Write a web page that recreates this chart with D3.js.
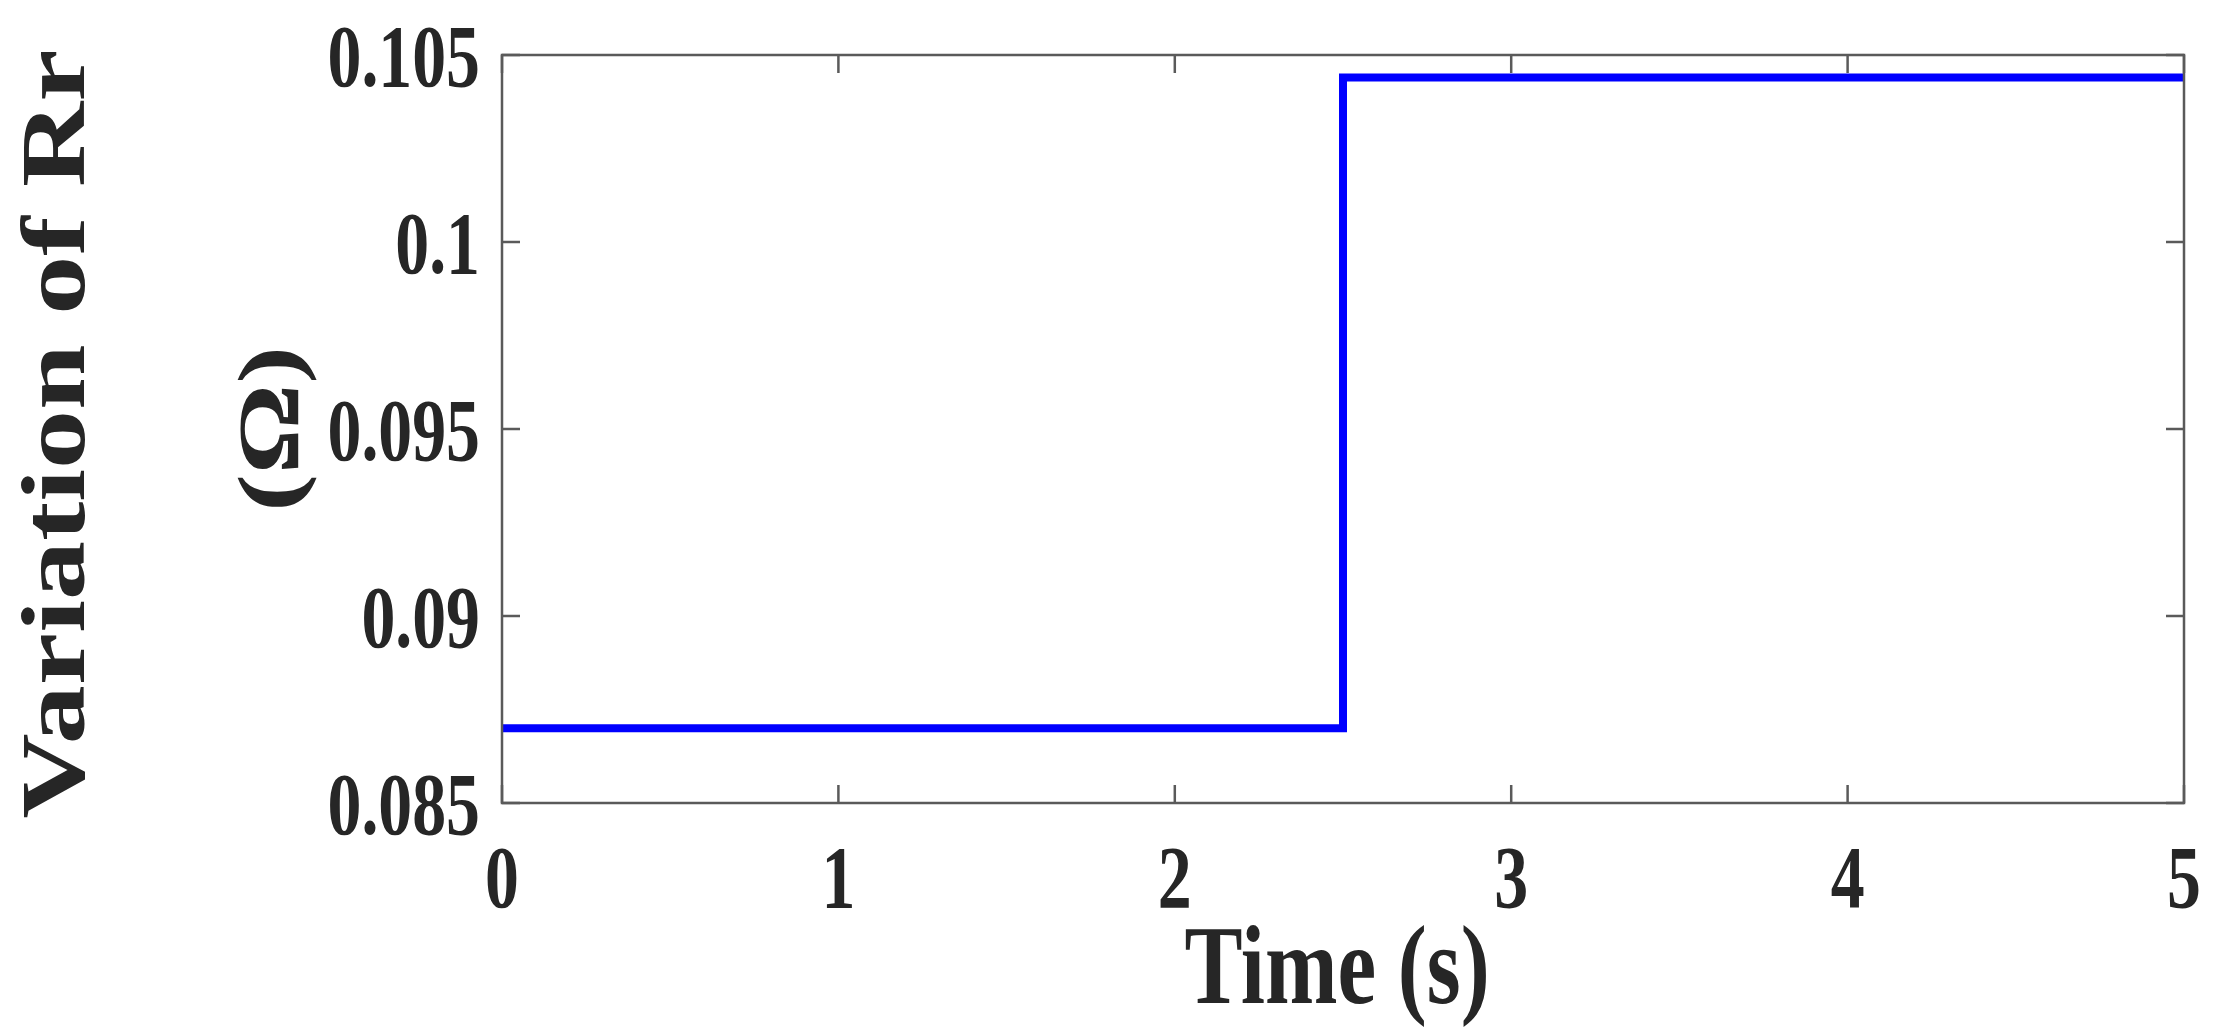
<!DOCTYPE html>
<html>
<head>
<meta charset="utf-8">
<script src="https://cdn.jsdelivr.net/npm/d3@7"></script>
<style>
  html, body { margin: 0; padding: 0; background: #fff; }
  svg { display: block; }
  text { font-family: "Liberation Serif", "Times New Roman", serif; font-weight: bold; fill: #262626; }
</style>
</head>
<body>
<svg id="chart"></svg>
<script>
// step change of rotor resistance
const times = [0, 2.5, 5];
const rrValues = [0.087, 0.1044, 0.1044];
const xTicks = [0, 1, 2, 3, 4, 5];
const yTicks = [0.085, 0.09, 0.095, 0.1, 0.105];
const yTickLabels = ["0.085", "0.09", "0.095", "0.1", "0.105"];

const width = 2220, height = 1032;
const margin = { left: 502, right: 36, top: 55, bottom: 229 };
const squeeze = 0.77; // glyphs are narrower than their height in the original

const svg = d3.select("#chart").attr("width", width).attr("height", height);

const x = d3.scaleLinear().domain([0, 5]).range([margin.left, width - margin.right]);
const y = d3.scaleLinear().domain([0.085, 0.105]).range([height - margin.bottom, margin.top]);

const axisColor = "#5a5a5a";
const tickLen = 18;

// data line
const line = d3.line()
   .x((d, i) => x(times[i]))
   .y((d) => y(d))
   .curve(d3.curveStepAfter);

svg.append("path")
   .datum(rrValues)
   .attr("d", line)
   .attr("fill", "none")
   .attr("stroke", "#0000ff")
   .attr("stroke-width", 8);

// ticks (inside, on all four sides)
const g = svg.append("g").attr("stroke", axisColor).attr("stroke-width", 2.5);
xTicks.forEach((t) => {
   g.append("line").attr("x1", x(t)).attr("x2", x(t)).attr("y1", y.range()[0]).attr("y2", y.range()[0] - tickLen);
   g.append("line").attr("x1", x(t)).attr("x2", x(t)).attr("y1", y.range()[1]).attr("y2", y.range()[1] + tickLen);
});
yTicks.forEach((t) => {
   g.append("line").attr("x1", x.range()[0]).attr("x2", x.range()[0] + tickLen).attr("y1", y(t)).attr("y2", y(t));
   g.append("line").attr("x1", x.range()[1]).attr("x2", x.range()[1] - tickLen).attr("y1", y(t)).attr("y2", y(t));
});

// box
svg.append("rect")
   .attr("x", x.range()[0])
   .attr("y", y.range()[1])
   .attr("width", x.range()[1] - x.range()[0])
   .attr("height", y.range()[0] - y.range()[1])
   .attr("fill", "none")
   .attr("stroke", axisColor)
   .attr("stroke-width", 2.5);

// tick labels
svg.selectAll(".xlab")
   .data(xTicks)
   .enter()
   .append("text")
   .attr("class", "xlab")
   .attr("text-anchor", "middle")
   .attr("transform", (d) => `translate(${x(d)},${y.range()[0] + 104}) scale(${squeeze},1)`)
   .style("font-size", "88px")
   .text((d) => d);

svg.selectAll(".ylab")
   .data(yTicks)
   .enter()
   .append("text")
   .attr("class", "ylab")
   .attr("text-anchor", "end")
   .attr("transform", (d) => `translate(${x.range()[0] - 22},${y(d) + 31}) scale(${squeeze},1)`)
   .style("font-size", "88px")
   .text((d, i) => yTickLabels[i]);

// axis titles
const midX = (x.range()[0] + x.range()[1]) / 2;
const midY = (y.range()[0] + y.range()[1]) / 2;

svg.append("text")
   .attr("text-anchor", "middle")
   .attr("transform", `translate(${midX - 6},1003) scale(${squeeze},1)`)
   .style("font-size", "113px")
   .text("Time (s)");

svg.append("text")
   .attr("text-anchor", "middle")
   .attr("transform", `translate(84,${midY + 5}) scale(${squeeze},1) rotate(-90)`)
   .style("font-size", "118px")
   .text("Variation of Rr");

svg.append("text")
   .attr("text-anchor", "middle")
   .attr("transform", `translate(298,${midY}) scale(${squeeze},1) rotate(-90)`)
   .style("font-size", "113px")
   .text("(Ω)");
</script>
</body>
</html>
